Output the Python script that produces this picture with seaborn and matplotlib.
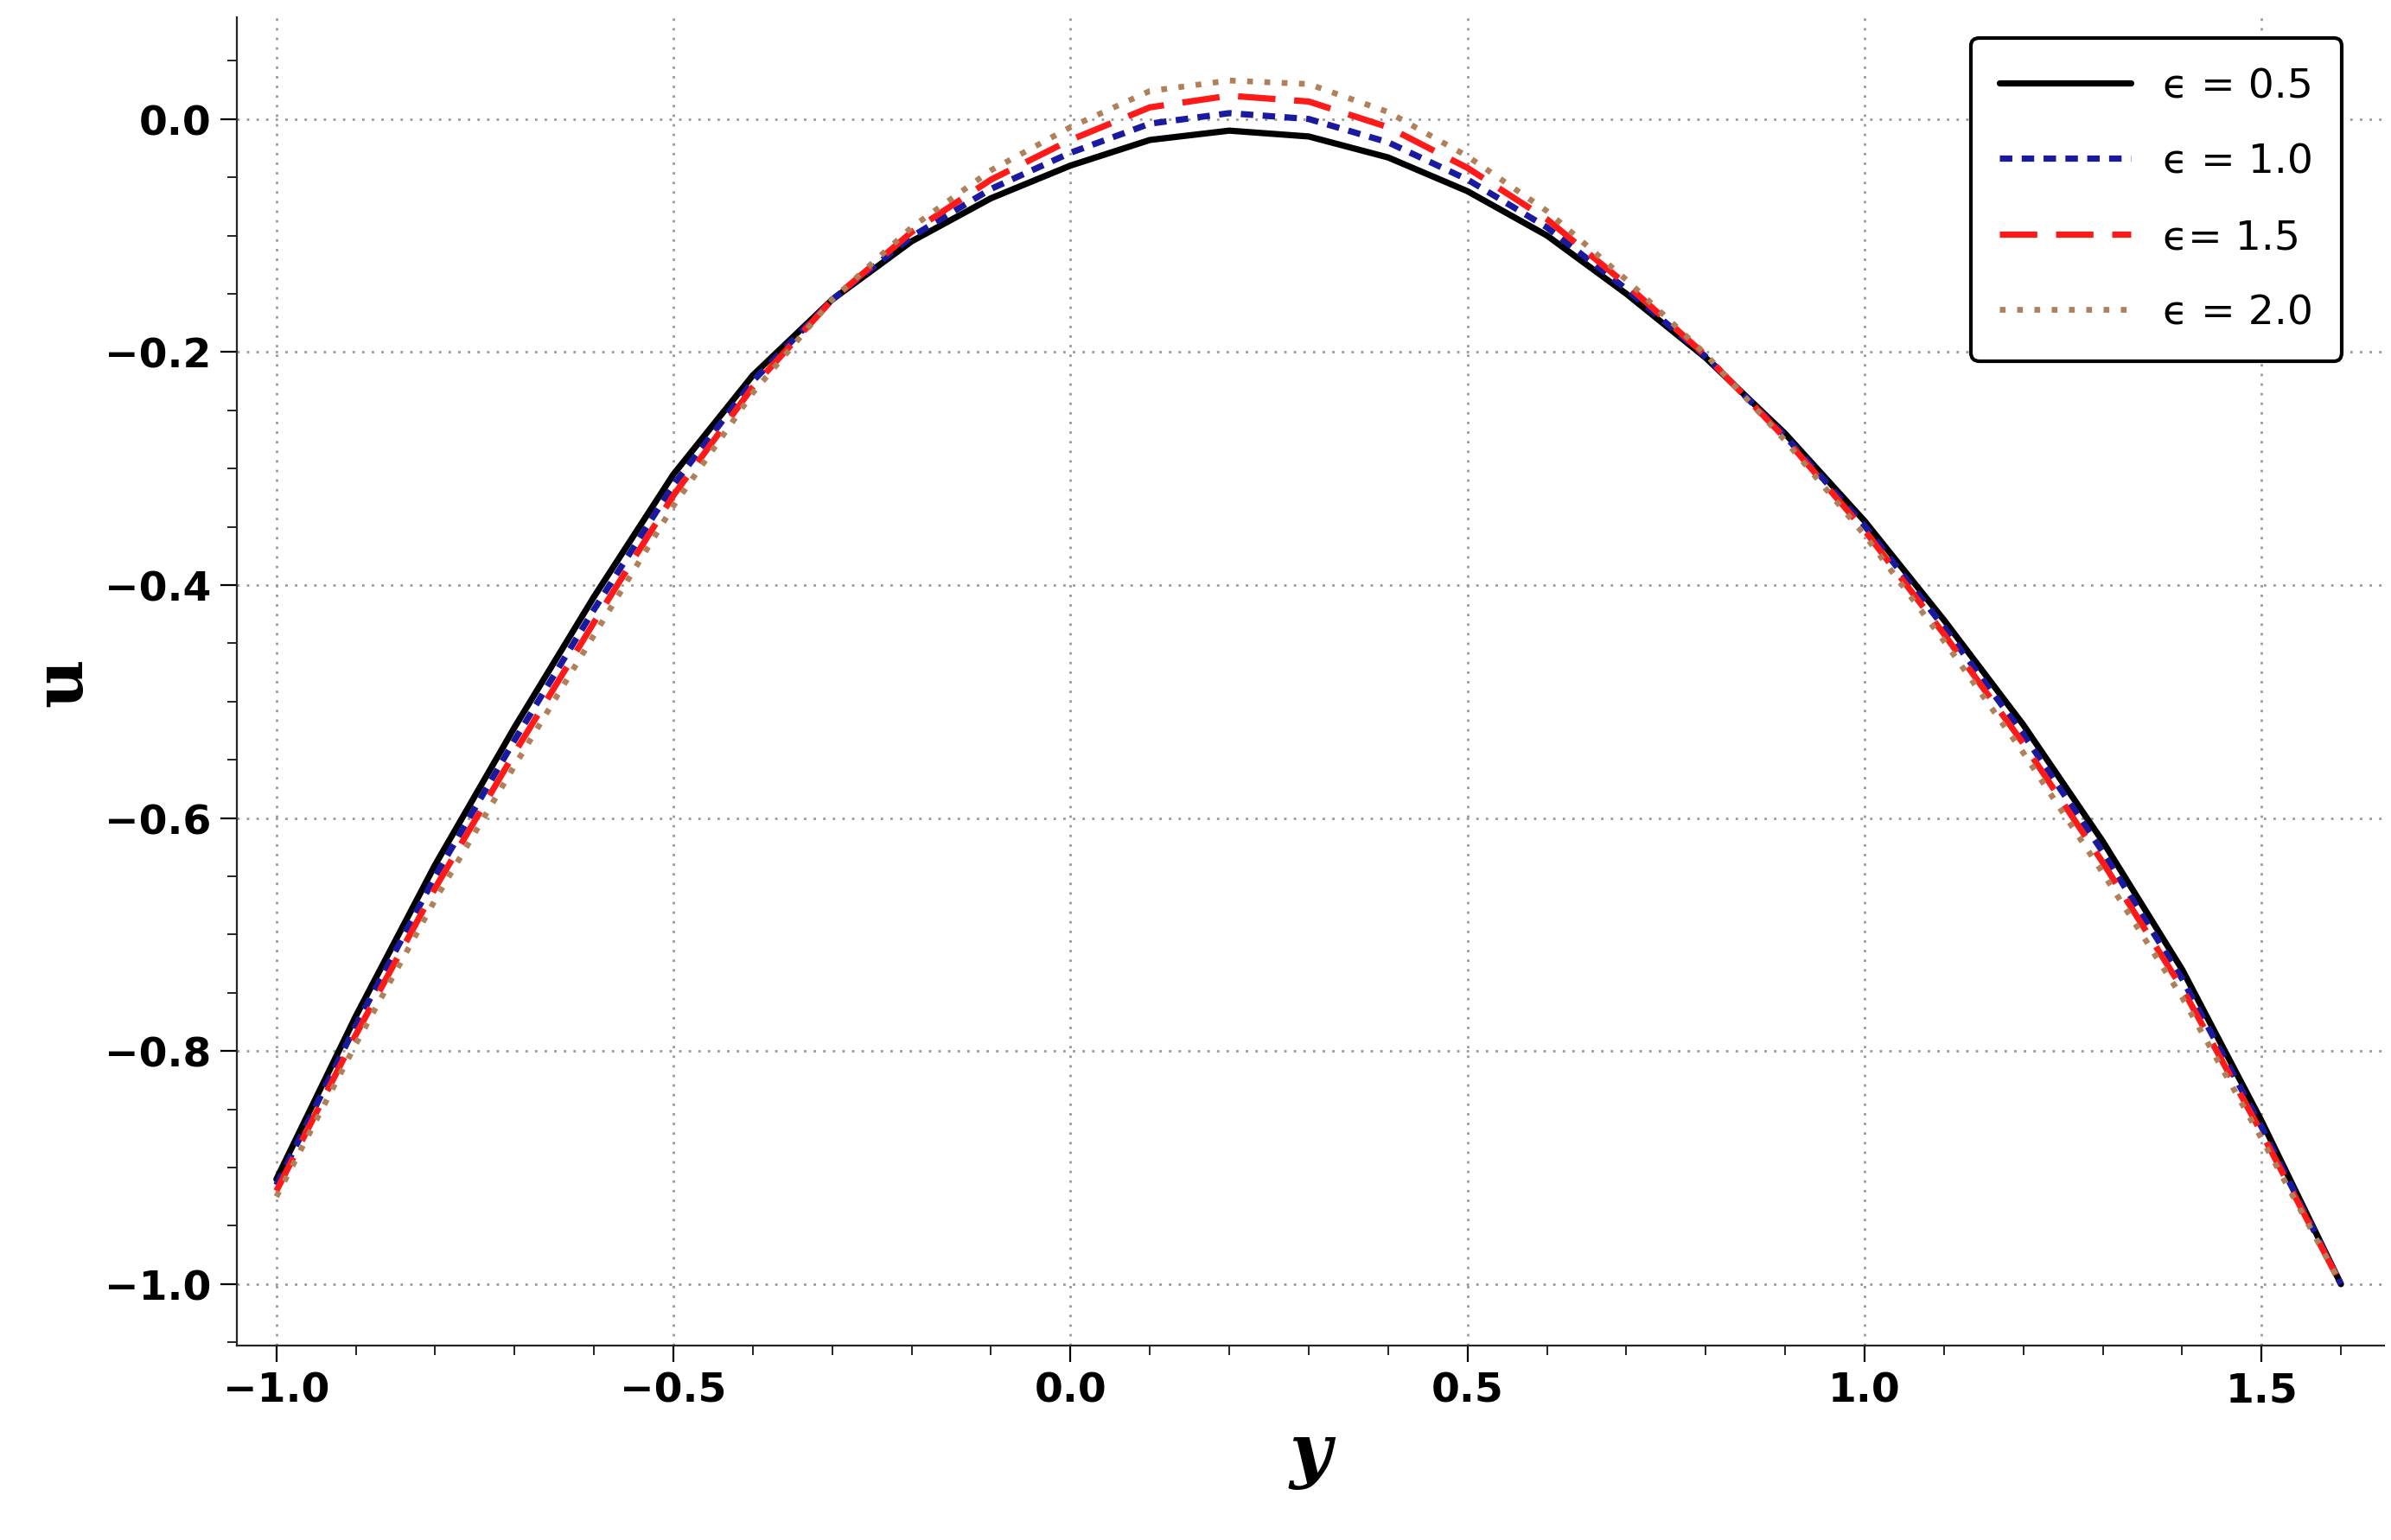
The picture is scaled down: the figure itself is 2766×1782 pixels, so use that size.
import numpy as np
import matplotlib
matplotlib.use("Agg")
import matplotlib.pyplot as plt
import seaborn as sns
from matplotlib.ticker import MultipleLocator

sns.set_style("ticks")
plt.rcParams["text.color"] = "black"
plt.rcParams["axes.labelcolor"] = "black"
plt.rcParams["xtick.color"] = "black"
plt.rcParams["ytick.color"] = "black"

# values
y_vals = [-1.0, -0.9, -0.8, -0.7, -0.6, -0.5, -0.4, -0.3, -0.2, -0.1, 0.0, 0.1, 0.2, 0.3,
          0.4, 0.5, 0.6, 0.7, 0.8, 0.9, 1.0, 1.1, 1.2, 1.3, 1.4, 1.5, 1.6]
u_eps05 = [-0.910, -0.770, -0.640, -0.522, -0.410, -0.305, -0.220, -0.155, -0.105, -0.068, -0.040, -0.018, -0.010, -0.015,
           -0.033, -0.062, -0.100, -0.150, -0.205, -0.270, -0.345, -0.430, -0.520, -0.620, -0.730, -0.860, -1.000]
u_eps10 = [-0.915, -0.778, -0.650, -0.533, -0.421, -0.314, -0.225, -0.155, -0.101, -0.060, -0.029, -0.004, 0.005, 0.000,
           -0.020, -0.052, -0.093, -0.146, -0.204, -0.272, -0.349, -0.436, -0.528, -0.629, -0.738, -0.865, -1.000]
u_eps15 = [-0.920, -0.786, -0.660, -0.544, -0.432, -0.323, -0.230, -0.155, -0.097, -0.052, -0.018, 0.010, 0.020, 0.015,
           -0.007, -0.042, -0.086, -0.142, -0.203, -0.274, -0.353, -0.442, -0.536, -0.638, -0.746, -0.870, -1.000]
u_eps20 = [-0.925, -0.794, -0.670, -0.555, -0.443, -0.332, -0.235, -0.155, -0.093, -0.044, -0.007, 0.024, 0.033, 0.030,
           0.006, -0.032, -0.079, -0.138, -0.202, -0.276, -0.357, -0.448, -0.544, -0.647, -0.754, -0.875, -1.000]

labels = ["\u03f5 = 0.5", "\u03f5 = 1.0", "\u03f5= 1.5", "\u03f5 = 2.0"]
series = [u_eps05, u_eps10, u_eps15, u_eps20]
colors = ["black", "#1a1aa0", "#ff1a1a", "#b0805a"]
styles = ["-", (0, (2, 1.5)), (0, (6, 3)), (0, (1, 2))]
widths = [2.6, 2.6, 2.6, 2.4]

fig, ax = plt.subplots(figsize=(13.83, 8.915), dpi=200)
fig.subplots_adjust(left=0.099, right=0.997, top=0.988, bottom=0.126)

for u, lab, c, ls, lw in zip(series, labels, colors, styles, widths):
    sns.lineplot(x=y_vals, y=u, ax=ax, color=c, linestyle=ls, linewidth=lw, label=lab)

ax.set_xlim(-1.05, 1.654)
ax.set_ylim(-1.053, 0.087)
ax.xaxis.set_major_locator(MultipleLocator(0.5))
ax.xaxis.set_minor_locator(MultipleLocator(0.1))
ax.yaxis.set_major_locator(MultipleLocator(0.2))
ax.yaxis.set_minor_locator(MultipleLocator(0.05))
ax.grid(True, which="major", linestyle=(0, (1, 3)), color="#999999", linewidth=1)
sns.despine(ax=ax)
ax.tick_params(which="major", length=7, labelsize=17)
ax.tick_params(which="minor", length=4)
for t in ax.get_xticklabels() + ax.get_yticklabels():
    t.set_fontweight("bold")
ax.xaxis.set_major_formatter(matplotlib.ticker.FuncFormatter(lambda v, p: f"{v:.1f}".replace("-", "\u2212")))
ax.yaxis.set_major_formatter(matplotlib.ticker.FuncFormatter(lambda v, p: f"{v:.1f}".replace("-", "\u2212")))

ax.set_xlabel("y", fontsize=30, fontstyle="italic", fontweight="bold", family="serif")
ax.set_ylabel("u", fontsize=28, fontweight="bold", family="serif")

leg = ax.legend(loc="upper right", fontsize=17, markerfirst=True, handlelength=3.2,
                borderpad=0.7, labelspacing=0.9, fancybox=True, framealpha=1,
                edgecolor="black", bbox_to_anchor=(0.99, 1.0))
leg.get_frame().set_linewidth(1.5)
for t in leg.get_texts():
    t.set_ha("right")

fig.savefig("out.png", dpi=200)
